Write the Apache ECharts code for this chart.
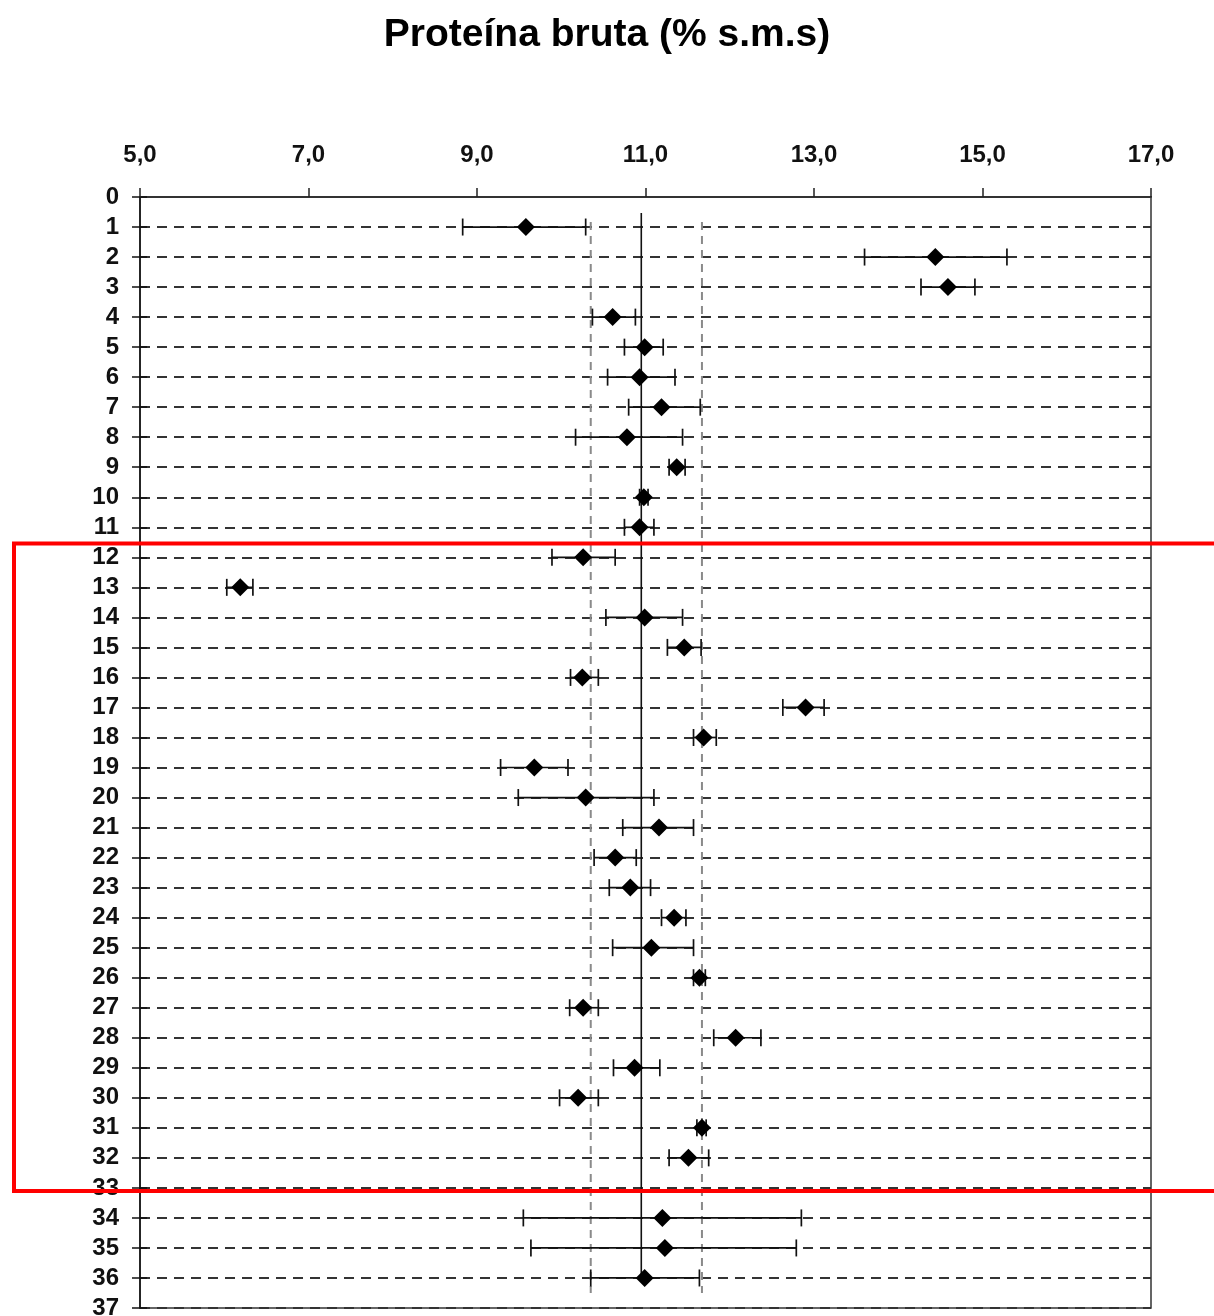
<!DOCTYPE html>
<html>
<head>
<meta charset="utf-8">
<script src="https://cdn.jsdelivr.net/npm/echarts@6/dist/echarts.min.js"></script>
<style>
html,body{margin:0;padding:0;background:#fff;}
#c{width:1214px;height:1316px;}
</style>
</head>
<body>
<div id="c"></div>
<script>
// ---- data ----
var titleText = "Proteína bruta (% s.m.s)";
var xTicks = [5, 7, 9, 11, 13, 15, 17];
var rows = [1,2,3,4,5,6,7,8,9,10,11,12,13,14,15,16,17,18,19,20,21,22,23,24,25,26,27,28,29,30,31,32,34,35,36];
var means = [9.58,14.44,14.59,10.61,10.99,10.93,11.19,10.78,11.37,10.98,10.93,10.26,6.19,10.99,11.46,10.25,12.90,11.69,9.68,10.29,11.16,10.64,10.82,11.34,11.07,11.64,10.26,12.07,10.87,10.20,11.67,11.51,11.20,11.23,10.99];
var lows  = [8.83,13.60,14.27,10.37,10.75,10.55,10.80,10.17,11.28,10.93,10.75,9.89,6.03,10.53,11.26,10.11,12.63,11.57,9.28,9.49,10.73,10.39,10.57,11.19,10.61,11.57,10.10,11.81,10.62,9.98,11.61,11.28,9.55,9.64,10.35];
var highs = [10.29,15.29,14.91,10.88,11.21,11.35,11.65,11.44,11.47,11.03,11.10,10.64,6.34,11.44,11.66,10.44,13.12,11.84,10.08,11.10,11.57,10.89,11.06,11.48,11.57,11.71,10.44,12.37,11.17,10.44,11.72,11.75,12.85,12.79,11.64];
var refMean = 10.95;
var refLow = 10.35;
var refHigh = 11.67;
var meanSpan = [0.53, 36.06];
var limitSpan = [0.83, 36.5];

// ---- chart ----
var FONT = '"Liberation Sans", Arial, sans-serif';
var chart = echarts.init(document.getElementById('c'), null, {renderer: 'canvas'});

var pts = rows.map(function (r, i) { return [means[i], r]; });
var bars = rows.map(function (r, i) { return [lows[i], highs[i], r]; });

function vline(x, span) { return [[x, span[0]], [x, span[1]]]; }

var option = {
  animation: false,
  backgroundColor: '#ffffff',
  title: {
    text: titleText,
    left: 'center',
    top: 11,
    textStyle: {fontFamily: FONT, fontWeight: 'bold', fontSize: 39, color: '#000'}
  },
  grid: {
    left: 140, right: 63, top: 197, bottom: 8,
    containLabel: false, outerBoundsMode: 'none',
    show: true, borderColor: '#333', borderWidth: 1.5, backgroundColor: 'transparent'
  },
  xAxis: {
    type: 'value', position: 'top', min: 5, max: 17, interval: 2,
    axisLine: {show: true, lineStyle: {color: '#333', width: 2}},
    axisTick: {show: true, inside: false, length: 9, lineStyle: {color: '#222', width: 1.5}},
    axisLabel: {
      margin: 30, fontFamily: FONT, fontWeight: 'bold', fontSize: 24, color: '#111',
      formatter: function (v) { return v.toFixed(1).replace('.', ','); }
    },
    splitLine: {show: false}
  },
  yAxis: [{
    type: 'value', inverse: true, min: 0, max: 37, interval: 1,
    axisLine: {show: true, lineStyle: {color: '#111', width: 1.5}},
    axisTick: {show: true, inside: false, length: 8, lineStyle: {color: '#111', width: 1.5}},
    axisLabel: {margin: 21, fontFamily: FONT, fontWeight: 'bold', fontSize: 24, color: '#111'},
    splitLine: {show: true, lineStyle: {color: '#333', width: 2, type: [10, 7]}}
  }, {
    type: 'value', inverse: true, min: 0, max: 37, interval: 1, position: 'left', offset: 0,
    axisLine: {show: false},
    axisTick: {show: true, inside: true, length: 7, lineStyle: {color: '#111', width: 1.5}},
    axisLabel: {show: false},
    splitLine: {show: false}
  }],
  series: [
    {
      type: 'line', data: vline(refLow, limitSpan), symbol: 'none', silent: true, z: 3,
      lineStyle: {color: '#8a8a8a', width: 2, type: [8, 6]}
    },
    {
      type: 'line', data: vline(refHigh, limitSpan), symbol: 'none', silent: true, z: 3,
      lineStyle: {color: '#8a8a8a', width: 2, type: [8, 6]}
    },
    {
      type: 'line', data: vline(refMean, meanSpan), symbol: 'none', silent: true, z: 3,
      lineStyle: {color: '#111', width: 1.6}
    },
    {
      type: 'custom', z: 4, silent: true,
      data: bars,
      encode: {x: [0, 1], y: 2},
      renderItem: function (params, api) {
        var y = api.value(2);
        var a = api.coord([api.value(0), y]);
        var b = api.coord([api.value(1), y]);
        var h = 8.5;
        var st = {stroke: '#111', lineWidth: 1.7, fill: null};
        return {
          type: 'group',
          children: [
            {type: 'line', shape: {x1: a[0], y1: a[1], x2: b[0], y2: b[1]}, style: st},
            {type: 'line', shape: {x1: a[0], y1: a[1] - h, x2: a[0], y2: a[1] + h}, style: st},
            {type: 'line', shape: {x1: b[0], y1: b[1] - h, x2: b[0], y2: b[1] + h}, style: st}
          ]
        };
      }
    },
    {
      type: 'scatter', data: pts, symbol: 'diamond', symbolSize: [18, 18], z: 5,
      itemStyle: {color: '#000', opacity: 1}
    }
  ],
  graphic: [{
    type: 'rect', z: 100, silent: true,
    shape: {x: 14, y: 543.5, width: 1215, height: 647.5},
    style: {fill: null, stroke: '#ff0000', lineWidth: 4}
  }]
};
chart.setOption(option);
</script>
</body>
</html>
